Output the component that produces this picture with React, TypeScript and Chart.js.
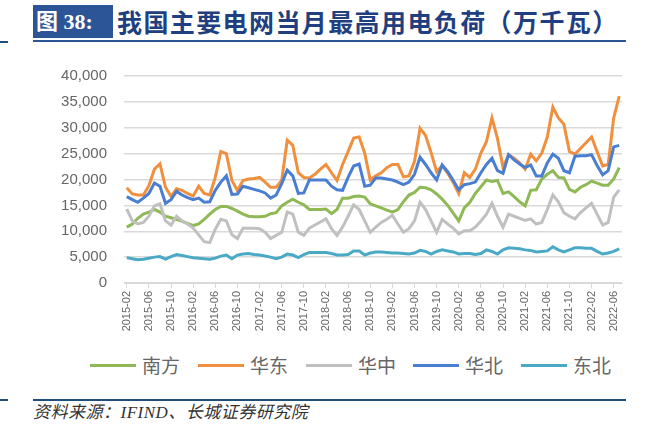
import React, { useEffect, useRef } from 'react';
import { Chart, registerables } from 'chart.js';
Chart.register(...registerables);

// Categories: monthly from 2015-02 to 2022-07
const START_YEAR = 2015;
const START_MONTH = 2;
const MONTH_COUNT = 90;
const months: string[] = [];
for (let k = 0; k < MONTH_COUNT; k++) {
  const m = START_MONTH - 1 + k;
  const y = START_YEAR + Math.floor(m / 12);
  const mm = (m % 12) + 1;
  months.push(`${y}-${mm < 10 ? '0' + mm : mm}`);
}

const seriesNames = ['南方', '华东', '华中', '华北', '东北'];

const nanfang = [
  10800, 11400, 12500, 13300, 13700, 14200, 13700, 12900, 12600, 12300,
  11900, 11500, 11100, 11400, 12300, 13300, 14200, 14800, 14800, 14400,
  13900, 13300, 12900, 12800, 12800, 12900, 13400, 13600, 14900, 15600,
  16200, 15600, 15100, 14200, 14200, 14200, 14300, 13400, 14200, 16400,
  16400, 16700, 16800, 16600, 15300, 14900, 14500, 14100, 13700, 14200,
  15700, 17000, 17500, 18500, 18400, 18000, 17200, 16200, 15000, 13500,
  12000, 14500, 15600, 17300, 18600, 19900, 19600, 19800, 17300, 17600,
  16700, 15700, 14900, 17900, 18000, 20100, 21000, 21700, 20400, 20300,
  18100, 17600, 18500, 19000, 19700, 19300, 18900, 18900, 20100, 22300,
];

const huadong = [
  18400, 17200, 17000, 17000, 18800, 22000, 23000, 18500, 16700, 18200,
  17900, 17300, 16800, 18700, 17300, 17000, 20400, 25400, 25000, 19800,
  17900, 19800, 20100, 20200, 20400, 19500, 18500, 18500, 19800, 27600,
  26600, 21300, 20400, 20300, 21000, 22000, 22900, 21300, 19800, 22900,
  25400, 28000, 28200, 25100, 19900, 20700, 21300, 22300, 22900, 22900,
  20500, 20700, 23500, 29900, 28500, 25200, 21500, 22700, 21200, 19400,
  17300, 21300, 20400, 22000, 25100, 27300, 31900, 27900, 22300, 24800,
  24100, 23200, 22000, 24900, 23600, 25100, 28200, 34000, 31900, 30700,
  25400, 24900, 26000, 27100, 28200, 25400, 22600, 22900, 31900, 36100,
];

const huazhong = [
  14300, 12000, 11400, 11700, 12900, 14900, 15300, 12000, 11200, 12900,
  12000, 11400, 10600, 9300, 8000, 7800, 10400, 12300, 12000, 9300,
  8600, 10600, 10600, 10600, 10500, 9800, 8600, 9200, 9800, 13700,
  13300, 9800, 9200, 10600, 11200, 11800, 12400, 10500, 9200, 10800,
  12900, 15100, 14200, 12000, 9800, 10800, 11700, 12300, 13100, 11400,
  9800, 10500, 12000, 15600, 14200, 12000, 9800, 12300, 11400, 10600,
  9500, 10100, 10100, 10800, 12000, 13300, 15400, 12900, 10800, 13300,
  12900, 12500, 12100, 12400, 11400, 11700, 14200, 17000, 15700, 13600,
  12900, 12400, 13600, 14500, 15400, 13300, 11200, 11700, 16600, 18000,
];

const huabei = [
  16700, 16100, 15600, 16400, 17300, 19300, 18700, 15400, 16100, 17700,
  17000, 16500, 16100, 16400, 15600, 15700, 17900, 19500, 20700, 17100,
  17200, 18700, 18400, 18100, 17800, 17400, 16400, 17000, 19200, 21800,
  20700, 17300, 17400, 19900, 19900, 19900, 19900, 18700, 18000, 17900,
  20400, 22600, 23000, 18700, 18900, 20300, 20300, 20100, 19900, 19500,
  19000, 19500, 21000, 24300, 22900, 21300, 19900, 22800, 21500, 19800,
  18000, 19000, 19200, 19500, 21300, 22900, 24100, 21700, 21200, 24800,
  23800, 23000, 22300, 22800, 20700, 20700, 23200, 24900, 24100, 21700,
  21300, 24500, 24600, 24600, 24800, 22700, 20900, 21700, 26300, 26600,
];

const dongbei = [
  4900, 4700, 4500, 4600, 4800, 5000, 5100, 4600, 5100, 5500,
  5300, 5100, 4900, 4800, 4700, 4600, 4800, 5200, 5400, 4700,
  5400, 5600, 5700, 5500, 5400, 5200, 5000, 4700, 5000, 5600,
  5400, 4900, 5500, 5900, 5900, 5900, 5900, 5700, 5400, 5400,
  5500, 6200, 6200, 5400, 5800, 6000, 6000, 5900, 5800, 5800,
  5700, 5600, 5800, 6300, 6100, 5600, 6100, 6400, 6200, 6000,
  5600, 5700, 5700, 5500, 5700, 6400, 6100, 5600, 6400, 6800,
  6700, 6600, 6400, 6300, 6000, 6100, 6200, 7000, 6400, 6000,
  6400, 6800, 6800, 6700, 6700, 6100, 5600, 5800, 6100, 6600,
];

const seriesData = [nanfang, huadong, huazhong, huabei, dongbei];
const seriesColors = ['#8fb955', '#f0903f', '#c0c0c0', '#4a7ed0', '#4aaac6'];

const yTicks = [0, 5000, 10000, 15000, 20000, 25000, 30000, 35000, 40000];

const titleBox = '图 38:';
const titleText = '我国主要电网当月最高用电负荷（万千瓦）';
const sourceText = '资料来源：IFIND、长城证券研究院';

const legendX = [90, 198, 306, 413, 521];

export default function App() {
  const canvasRef = useRef<HTMLCanvasElement | null>(null);

  useEffect(() => {
    document.body.style.margin = '0';
    const canvas = canvasRef.current;
    if (!canvas) return;
    const chart = new Chart(canvas, {
      type: 'line',
      data: {
        labels: months,
        datasets: seriesNames.map((name, i) => ({
          label: name,
          data: seriesData[i],
          borderColor: seriesColors[i],
          backgroundColor: seriesColors[i],
          borderWidth: 3,
          pointRadius: 0,
          tension: 0,
          fill: false,
          order: seriesNames.length - 1 - i,
        })),
      },
      options: {
        responsive: false,
        animation: false,
        devicePixelRatio: 1,
        layout: { padding: { top: 18, right: 28, left: 0, bottom: 0 } },
        plugins: {
          legend: { display: false },
          tooltip: { enabled: false },
          title: { display: false },
        },
        scales: {
          x: {
            type: 'category',
            offset: true,
            grid: {
              display: true,
              drawOnChartArea: false,
              drawTicks: true,
              tickLength: 5,
              offset: false,
              color: (ctx: any) => (ctx.index % 4 === 0 ? '#d9d9d9' : 'rgba(0,0,0,0)'),
            },
            border: { display: true, color: '#d9d9d9', width: 1 },
            ticks: {
              autoSkip: false,
              minRotation: 90,
              maxRotation: 90,
              padding: 3,
              color: '#666666',
              font: { family: "'Liberation Sans', Arial, sans-serif", size: 11 },
              callback: (_v: any, idx: number) => (idx % 4 === 0 ? months[idx] : ''),
            },
            afterFit: (scale: any) => {
              scale.height = 67;
            },
          },
          y: {
            min: yTicks[0],
            max: yTicks[yTicks.length - 1],
            afterBuildTicks: (scale: any) => {
              scale.ticks = yTicks.map((v) => ({ value: v }));
            },
            grid: {
              color: '#d9d9d9',
              lineWidth: 1.5,
              drawTicks: false,
            },
            border: { display: false },
            ticks: {
              padding: 17,
              color: '#666666',
              font: { family: "'Liberation Sans', Arial, sans-serif", size: 15 },
              callback: (v: any) => Number(v).toLocaleString('en-US'),
            },
            afterFit: (scale: any) => {
              scale.width = 124;
            },
          },
        },
      },
    });
    return () => chart.destroy();
  }, []);

  return (
    <div
      style={{
        position: 'fixed',
        left: 0,
        top: 0,
        width: 650,
        height: 439,
        background: '#ffffff',
        overflow: 'hidden',
      }}
    >
      {/* left page remnants */}
      <div style={{ position: 'absolute', left: 0, top: 41, width: 8, height: 2, background: '#1f4e79' }} />
      <div style={{ position: 'absolute', left: 0, top: 399, width: 8, height: 2, background: '#1f4e79' }} />

      {/* title */}
      <div
        style={{
          position: 'absolute',
          left: 33,
          top: 5,
          width: 80,
          height: 33,
          background: '#2c5597',
          color: '#ffffff',
          fontFamily: "'Liberation Serif', 'Noto Sans CJK SC', serif",
          fontWeight: 700,
          fontSize: 22,
          lineHeight: '33px',
          textAlign: 'left',
          paddingLeft: 3,
          boxSizing: 'border-box',
          whiteSpace: 'nowrap',
        }}
      >
        {titleBox}
      </div>
      <div
        style={{
          position: 'absolute',
          left: 117,
          top: 5,
          height: 33,
          color: '#1f3f80',
          fontFamily: "'Noto Sans CJK SC', sans-serif",
          fontWeight: 700,
          fontSize: 25,
          lineHeight: '33px',
          whiteSpace: 'nowrap',
          letterSpacing: 1.4,
        }}
      >
        {titleText}
      </div>
      <div style={{ position: 'absolute', left: 33, top: 40, width: 593, height: 2, background: '#2c5597' }} />

      {/* chart canvas */}
      <div style={{ position: 'absolute', left: 0, top: 50, width: 650, height: 300 }}>
        <canvas ref={canvasRef} width={650} height={300} style={{ width: 650, height: 300, display: 'block' }} />
      </div>

      {/* legend */}
      {seriesNames.map((name, i) => (
        <div
          key={name}
          style={{
            position: 'absolute',
            left: legendX[i],
            top: 352,
            height: 26,
            display: 'flex',
            alignItems: 'center',
            whiteSpace: 'nowrap',
          }}
        >
          <div style={{ width: 46, height: 3, background: seriesColors[i] }} />
          <span
            style={{
              marginLeft: 6,
              color: '#666666',
              fontFamily: "'Noto Sans CJK SC', sans-serif",
              fontSize: 19,
              lineHeight: '26px',
            }}
          >
            {name}
          </span>
        </div>
      ))}

      {/* source */}
      <div style={{ position: 'absolute', left: 33, top: 399, width: 593, height: 2, background: '#1f4e79' }} />
      <div
        style={{
          position: 'absolute',
          left: 33,
          top: 402,
          color: '#333333',
          fontFamily: "'Liberation Serif', 'Noto Sans CJK SC', serif",
          fontStyle: 'italic',
          fontSize: 17,
          lineHeight: '22px',
          whiteSpace: 'nowrap',
          letterSpacing: 0.5,
        }}
      >
        {sourceText}
      </div>
    </div>
  );
}
